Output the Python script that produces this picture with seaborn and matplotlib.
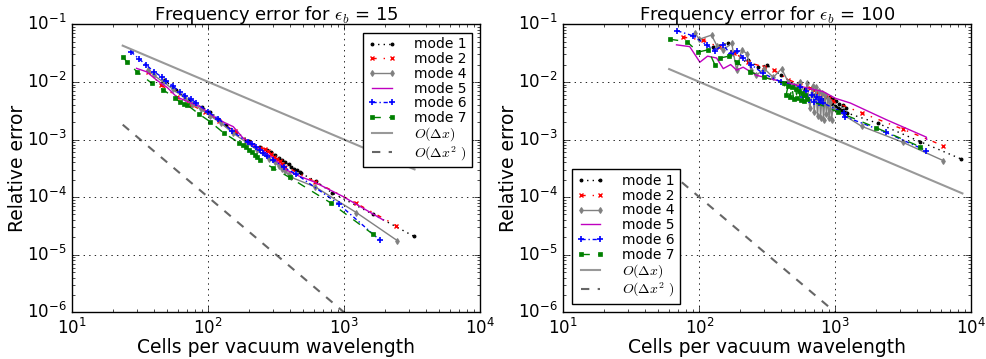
import matplotlib
matplotlib.use("Agg")
import matplotlib.pyplot as plt
import seaborn as sns

# ---------------- data: eps_b = 15 (left) ----------------
m1_L_x = [47, 58, 72, 90, 103, 118, 136, 160, 200, 240, 270, 290, 310, 330, 350, 370, 390, 410, 430, 450, 470, 480, 620, 810, 1640, 3250]
m1_L_y = [1.1e-2, 7.2e-3, 4.8e-3, 3.6e-3, 3.05e-3, 2.3e-3, 1.8e-3, 1.35e-3, 9.5e-4, 7.5e-4, 6.6e-4, 6.0e-4, 5.4e-4, 4.8e-4, 4.4e-4, 4.0e-4, 3.7e-4, 3.4e-4, 3.1e-4, 2.9e-4, 2.7e-4, 2.6e-4, 1.9e-4, 1.2e-4, 5.0e-5, 2.1e-5]

m2_L_x = [36, 45, 58.6, 75, 95, 120, 157, 200, 240, 260, 275, 290, 305, 320, 335, 350, 370, 610, 1230, 2430]
m2_L_y = [1.5e-2, 9.0e-3, 5.5e-3, 4.0e-3, 3.0e-3, 2.1e-3, 1.38e-3, 9.0e-4, 7.2e-4, 6.8e-4, 6.2e-4, 5.6e-4, 5.0e-4, 4.6e-4, 4.2e-4, 3.8e-4, 3.4e-4, 1.86e-4, 7.8e-5, 3.2e-5]

m4_L_x = [36, 40, 46.5, 55, 67.5, 75.5, 88, 103, 125, 152, 190, 230, 280, 310, 330, 350, 370, 390, 410, 615, 1230, 2470]
m4_L_y = [1.6e-2, 1.3e-2, 1.0e-2, 7.5e-3, 5.2e-3, 4.2e-3, 3.4e-3, 2.6e-3, 1.9e-3, 1.3e-3, 9.0e-4, 6.5e-4, 4.6e-4, 4.0e-4, 3.5e-4, 3.1e-4, 2.8e-4, 2.5e-4, 2.2e-4, 1.5e-4, 5.4e-5, 1.75e-5]

m5_L_x = [29.7, 35.2, 41.7, 50, 58.6, 70, 87.6, 110, 130, 153, 181, 220, 270, 320, 378, 450, 594, 986, 1945]
m5_L_y = [1.72e-2, 1.5e-2, 1.08e-2, 8.0e-3, 5.5e-3, 4.6e-3, 3.7e-3, 2.5e-3, 2.0e-3, 1.67e-3, 1.05e-3, 7.8e-4, 5.8e-4, 4.2e-4, 2.95e-4, 2.4e-4, 1.86e-4, 1.02e-4, 4.0e-5]

m6_L_x = [27, 31, 35, 40, 46, 49, 55, 62, 68, 75, 82, 100, 119, 150, 195, 210, 225, 240, 255, 270, 300, 360, 445, 918, 1830]
m6_L_y = [3.35e-2, 2.5e-2, 1.97e-2, 1.5e-2, 1.2e-2, 1.05e-2, 8.5e-3, 6.6e-3, 5.8e-3, 5.0e-3, 4.3e-3, 3.0e-3, 2.3e-3, 1.4e-3, 9.0e-4, 8.2e-4, 7.3e-4, 6.5e-4, 5.8e-4, 5.2e-4, 4.4e-4, 3.3e-4, 2.5e-4, 7.5e-5, 1.8e-5]

m7_L_x = [23.7, 25.2, 30, 38.4, 46.7, 56.9, 62, 66, 70, 85, 103, 130, 170, 180, 190, 200, 210, 220, 230, 240, 300, 397, 800, 1620]
m7_L_y = [2.75e-2, 2.2e-2, 1.5e-2, 9.5e-3, 7.3e-3, 5.2e-3, 4.5e-3, 4.2e-3, 4.0e-3, 2.8e-3, 2.05e-3, 1.3e-3, 8.7e-4, 8.0e-4, 7.3e-4, 6.6e-4, 6.0e-4, 5.4e-4, 4.9e-4, 4.4e-4, 3.2e-4, 2.2e-4, 7.9e-5, 2.3e-5]

o1_L_x = [23.5, 3300]
o1_L_y = [4.26e-2, 3.03e-4]
o2_L_x = [23.5, 1000]
o2_L_y = [1.81e-3, 1.0e-6]

# ---------------- data: eps_b = 100 (right) ----------------
m1_R_x = [127, 162, 188, 230, 270, 312, 400, 500, 600, 700, 800, 914, 940, 960, 990, 1010, 1040, 1070, 1100, 1130, 1160, 1190, 1216, 2070, 4200, 8400]
m1_R_y = [4.1e-2, 4.7e-2, 2.1e-2, 2.4e-2, 1.8e-2, 1.97e-2, 1.3e-2, 9.0e-3, 7.5e-3, 6.0e-3, 5.0e-3, 5.5e-3, 4.2e-3, 5.0e-3, 3.8e-3, 4.6e-3, 3.5e-3, 4.2e-3, 3.2e-3, 3.9e-3, 3.0e-3, 3.5e-3, 2.9e-3, 1.9e-3, 9.2e-4, 4.6e-4]

m2_R_x = [76, 107, 140, 180, 230, 300, 357, 450, 550, 650, 700, 750, 800, 850, 900, 960, 1560, 3160, 6220]
m2_R_y = [6.0e-2, 5.3e-2, 4.0e-2, 3.2e-2, 2.2e-2, 1.8e-2, 1.6e-2, 1.1e-2, 9.0e-3, 7.8e-3, 7.2e-3, 6.8e-3, 6.2e-3, 5.8e-3, 5.2e-3, 4.6e-3, 2.9e-3, 1.5e-3, 7.8e-4]

m4_R_x = [93, 100, 123, 135, 150, 173, 188, 205, 223, 240, 263, 300, 350, 403, 450, 500, 550, 600, 620, 650, 680, 700, 720, 740, 760, 780, 800, 820, 840, 860, 880, 900, 920, 940, 960, 1560, 3120, 6220]
m4_R_y = [7.0e-2, 5.5e-2, 6.5e-2, 4.2e-2, 3.6e-2, 4.7e-2, 1.6e-2, 3.6e-2, 3.1e-2, 1.6e-2, 1.3e-2, 1.7e-2, 1.2e-2, 1.7e-2, 1.0e-2, 8.5e-3, 1.0e-2, 6.0e-3, 9.5e-3, 3.5e-3, 8.5e-3, 3.0e-3, 8.0e-3, 2.6e-3, 7.0e-3, 2.4e-3, 6.5e-3, 2.2e-3, 6.0e-3, 2.8e-3, 5.0e-3, 2.4e-3, 4.5e-3, 2.2e-3, 3.5e-3, 1.7e-3, 9.0e-4, 4.3e-4]

m5_R_x = [68, 85, 101, 115, 134, 150, 170, 188, 210, 264, 350, 464, 600, 815, 1000, 1290, 2380, 4670, 4700]
m5_R_y = [4.4e-2, 4.1e-2, 2.2e-2, 2.8e-2, 2.6e-2, 1.7e-2, 2.0e-2, 1.6e-2, 1.8e-2, 1.3e-2, 1.1e-2, 9.5e-3, 8.0e-3, 6.8e-3, 5.2e-3, 4.3e-3, 2.2e-3, 1.1e-3, 1.0e-3]

m6_R_x = [69, 90, 113, 130, 150, 170, 190, 210, 240, 295, 400, 550, 580, 610, 640, 670, 700, 730, 760, 790, 815, 1150, 1180, 2350, 4670]
m6_R_y = [7.7e-2, 6.3e-2, 4.4e-2, 3.5e-2, 4.4e-2, 3.0e-2, 3.5e-2, 2.6e-2, 2.0e-2, 1.4e-2, 1.0e-2, 8.0e-3, 5.5e-3, 7.0e-3, 4.8e-3, 6.0e-3, 4.5e-3, 5.5e-3, 4.3e-3, 5.0e-3, 4.3e-3, 2.9e-3, 2.5e-3, 1.33e-3, 6.4e-4]

m7_R_x = [60.8, 81, 98, 116, 130, 142, 165, 188, 236, 300, 420, 435, 450, 465, 480, 495, 510, 525, 540, 555, 570, 585, 600, 620, 1050, 2000, 4200]
m7_R_y = [5.5e-2, 5.0e-2, 3.3e-2, 3.6e-2, 2.0e-2, 2.6e-2, 2.8e-2, 2.2e-2, 1.5e-2, 1.2e-2, 9.5e-3, 6.0e-3, 8.5e-3, 5.5e-3, 8.0e-3, 5.0e-3, 7.5e-3, 5.2e-3, 7.0e-3, 4.8e-3, 6.5e-3, 4.6e-3, 6.0e-3, 5.0e-3, 3.0e-3, 1.6e-3, 7.5e-4]

o1_R_x = [60, 8600]
o1_R_y = [1.67e-2, 1.16e-4]
o2_R_x = [60, 1000]
o2_R_y = [2.78e-4, 1.0e-6]

titles = [r"Frequency error for $\epsilon_b$ = 15", r"Frequency error for $\epsilon_b$ = 100"]
xlabel = "Cells per vacuum wavelength"
ylabel = "Relative error"
labels = ["mode 1", "mode 2", "mode 4", "mode 5", "mode 6", "mode 7", r"$O(\Delta x)$", r"$O(\Delta x^2\ )$"]

# ---------------- styling ----------------
plt.style.use("classic")
plt.rcParams.update({
    "figure.facecolor": "white",
    "savefig.facecolor": "white",
    "font.family": "DejaVu Sans",
    "mathtext.fontset": "cm",
    "axes.unicode_minus": False,
    "xtick.labelsize": 12,
    "ytick.labelsize": 12,
})

styles = [
    dict(color="k", linestyle=":", marker=".", markersize=4, markeredgecolor="k", markeredgewidth=0.8, linewidth=1.0),
    dict(color="r", linestyle="-.", marker="x", markersize=3, markeredgecolor="r", markeredgewidth=1.0, linewidth=1.0),
    dict(color="gray", linestyle="-", marker="d", markersize=3, markeredgecolor="gray", markerfacecolor="gray", markeredgewidth=0.8, linewidth=1.0),
    dict(color="m", linestyle="-", marker="", linewidth=1.0),
    dict(color="b", linestyle=(0, (3, 2, 1, 2)), marker="+", markersize=4.5, markeredgecolor="b", markeredgewidth=1.2, linewidth=1.0),
    dict(color="g", linestyle="--", marker="s", markersize=3, markeredgecolor="g", markeredgewidth=0.5, linewidth=1.0),
]
ref_styles = [
    dict(color=(0.6, 0.6, 0.6), linestyle="-", linewidth=1.5),
    dict(color=(0.4, 0.4, 0.4), linestyle="--", linewidth=1.5, dashes=(4, 4)),
]

fig = plt.figure(figsize=(9.86, 3.59), dpi=100)
axL = fig.add_axes([0.0733, 0.130, 0.4135, 0.8023])
axR = fig.add_axes([0.5713, 0.130, 0.4138, 0.8023])

panels = [
    (axL, [(m1_L_x, m1_L_y), (m2_L_x, m2_L_y), (m4_L_x, m4_L_y), (m5_L_x, m5_L_y), (m6_L_x, m6_L_y), (m7_L_x, m7_L_y)],
     [(o1_L_x, o1_L_y), (o2_L_x, o2_L_y)], "upper right"),
    (axR, [(m1_R_x, m1_R_y), (m2_R_x, m2_R_y), (m4_R_x, m4_R_y), (m5_R_x, m5_R_y), (m6_R_x, m6_R_y), (m7_R_x, m7_R_y)],
     [(o1_R_x, o1_R_y), (o2_R_x, o2_R_y)], "lower left"),
]

for i, (ax, series, refs, loc) in enumerate(panels):
    ax.set_xscale("log")
    ax.set_yscale("log")
    for (x, y), st, lab in zip(series, styles, labels[:6]):
        sns.lineplot(x=x, y=y, ax=ax, estimator=None, sort=False, label=lab, **st)
    for (x, y), st, lab in zip(refs, ref_styles, labels[6:]):
        sns.lineplot(x=x, y=y, ax=ax, estimator=None, sort=False, label=lab, **st)
    ax.set_xlim(10, 1e4)
    ax.set_ylim(1e-6, 1e-1)
    ax.grid(True, which="major", linestyle=":", color="k", linewidth=0.6)
    ax.tick_params(which="both", direction="in", top=True, right=True)
    ax.set_title(titles[i], fontsize=13, pad=3)
    ax.set_xlabel(xlabel, fontsize=13.5, labelpad=0)
    ax.set_ylabel(ylabel, fontsize=13.5, labelpad=0)
    leg = ax.legend(loc=loc, fontsize=10, numpoints=2, handlelength=2.0, handletextpad=1.3,
                    labelspacing=0.05, borderpad=0.35, borderaxespad=0.6, fancybox=False, frameon=True)
    leg.get_frame().set_edgecolor("k")
    leg.get_frame().set_linewidth(1.0)

fig.savefig("out.png", dpi=100)
